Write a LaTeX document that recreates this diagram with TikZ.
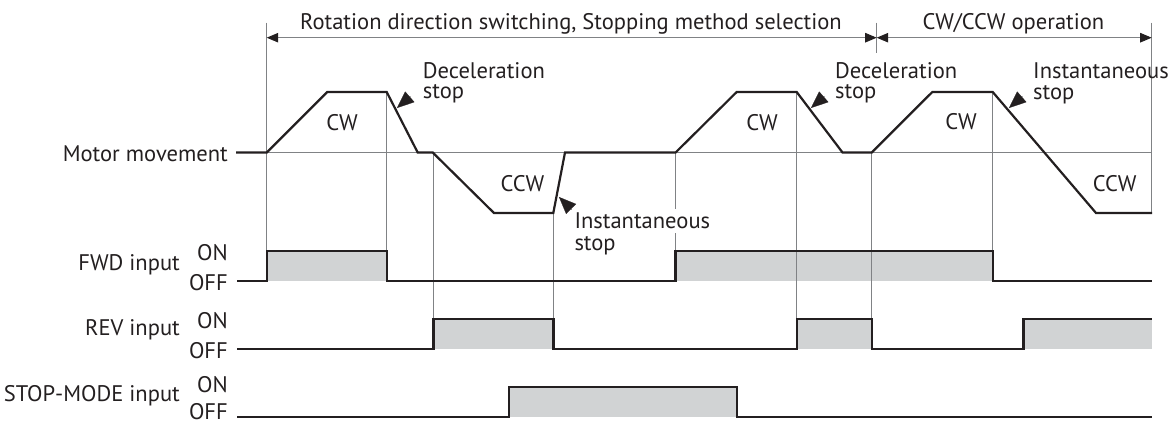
\documentclass[tikz,border=0pt]{standalone}
\usepackage{fontspec}
\setmainfont{PT Sans}
\usetikzlibrary{arrows.meta,calc}
\definecolor{ink}{HTML}{231F20}
\definecolor{guide}{HTML}{808285}
\definecolor{fillg}{HTML}{D1D3D4}
\newlength\mmw
\begin{document}
\settowidth\mmw{\fontsize{20pt}{24pt}\selectfont Motor movement}%
\pgfmathsetmacro\fsz{20*165/\mmw}%
\begin{tikzpicture}[x=1pt,y=-1pt]
\tikzset{
  lbl/.style={font=\fontsize{\fsz pt}{21pt}\selectfont, inner sep=0pt, text=ink},
  sig/.style={draw=ink, line width=2.4pt, line join=miter, line cap=butt},
  motor/.style={draw=ink, line width=2.2pt, line join=miter},
  guideline/.style={draw=guide, line width=0.9pt},
  span/.style={draw=guide, line width=0.9pt, {Triangle[length=11.5pt,width=9.5pt,color=ink]}-{Triangle[length=11.5pt,width=9.5pt,color=ink]}},
  pointer/.style={draw=ink, line width=0.2pt, -{Triangle[length=17pt,width=14pt]}},
  onfill/.style={fill=fillg, draw=none}
}
\useasboundingbox (0,0) rectangle (1168,423);

% ---- gray fills of ON states
\path[onfill] (266.7,251) rectangle (386.7,281);
\path[onfill] (675.6,251) rectangle (992.7,281);
\path[onfill] (433.3,319) rectangle (553.5,349);
\path[onfill] (796.7,319) rectangle (871.7,349);
\path[onfill] (1023.6,319) rectangle (1152,349);
\path[onfill] (509,387) rectangle (736.7,417);

% ---- guide lines
\draw[guideline] (266.7,22.7) -- (266.7,251);
\draw[guideline] (386.7,92) -- (386.7,251);
\draw[guideline] (433.3,152.5) -- (433.3,319);
\draw[guideline] (553.4,213) -- (553.4,319);
\draw[guideline] (675.6,152.5) -- (675.6,251);
\draw[guideline] (796.7,92) -- (796.7,319);
\draw[guideline] (871.7,152.5) -- (871.7,319);
\draw[guideline] (876.7,22.7) -- (876.7,53);
\draw[guideline] (992.7,92) -- (992.7,251);
\draw[guideline] (1151.7,22.7) -- (1151.7,213);
\draw[guideline] (266.7,152.5) -- (1151.7,152.5);

% ---- span arrows at the top
\coordinate (s0) at (266.7,37.7);
\coordinate (s1) at (876.7,37.7);
\coordinate (s2) at (1151.7,37.7);
\draw[span] (s0) -- (s1);
\draw[span] (s1) -- (s2);
\node[lbl, anchor=base] (t1) at (571,29) {Rotation direction switching, Stopping method selection};
\node[lbl, anchor=base] (t2) at (1013.4,29.5) {CW/CCW operation};

% ---- motor movement profile
\draw[motor] (236,152.5) -- (266.7,152.5) -- (327.3,92) -- (386.7,92) -- (417.7,152.5)
  -- (432.7,152.5) -- (494,213) -- (553.3,213) -- (565,152.5) -- (675.6,152.5)
  -- (736.7,92) -- (796.7,92) -- (842.5,152.5) -- (871.7,152.5) -- (932.3,92)
  -- (992.7,92) -- (1096,213) -- (1152,213);

\node[lbl] (cw1) at (342,122.5) {CW};
\node[lbl] (ccw1) at (522.5,184) {CCW};
\node[lbl] (cw2) at (762,123) {CW};
\node[lbl] (cw3) at (961,121.7) {CW};
\node[lbl] (ccw2) at (1114.7,184) {CCW};

% ---- annotations
\node[lbl, anchor=base west] (d1a) at (422.7,78) {Deceleration};
\node[lbl, anchor=base west] (d1b) at (422.7,98.5) {stop};
\node[lbl, anchor=base west] (d2a) at (835,78) {Deceleration};
\node[lbl, anchor=base west] (d2b) at (835,98.5) {stop};
\node[lbl, anchor=base west] (i1a) at (1033,78.3) {Instantaneous};
\node[lbl, anchor=base west] (i1b) at (1033,99) {stop};
\node[lbl, anchor=base west, fill=white, inner ysep=4pt] (i2a) at (574.3,228.3) {Instantaneous};
\node[lbl, anchor=base west] (i2b) at (574.3,250) {stop};

\coordinate (p1) at (397,108);
\coordinate (p2) at (811,108);
\coordinate (p3) at (1009,108);
\coordinate (p4) at (559,197);
\draw[pointer] ($(p1)+(13.5,-11.8)$) -- (p1);
\draw[pointer] ($(p2)+(13.5,-11.8)$) -- (p2);
\draw[pointer] ($(p3)+(13.5,-11.8)$) -- (p3);
\draw[pointer] ($(p4)+(12.9,12.8)$) -- (p4);

% ---- left labels
\node[lbl, anchor=base east] (mm) at (228,161) {Motor movement};
\node[lbl, anchor=base east] (fwd) at (180,270) {FWD input};
\node[lbl, anchor=base east] (fwdon) at (228,260) {ON};
\node[lbl, anchor=base east] (fwdoff) at (228,290) {OFF};
\node[lbl, anchor=base east] (rev) at (180,335) {REV input};
\node[lbl, anchor=base east] (revon) at (228,328) {ON};
\node[lbl, anchor=base east] (revoff) at (228,358) {OFF};
\node[lbl, anchor=base east] (stp) at (180,401) {STOP-MODE input};
\node[lbl, anchor=base east] (stpon) at (228,392) {ON};
\node[lbl, anchor=base east] (stpoff) at (228,419.5) {OFF};

% ---- digital signals
\draw[sig] (237,281) -- (266.7,281) -- (266.7,251) -- (386.7,251) -- (386.7,281)
  -- (675.6,281) -- (675.6,251) -- (992.7,251) -- (992.7,281) -- (1152,281);
\draw[sig] (237,349) -- (433.3,349) -- (433.3,319) -- (553.5,319) -- (553.5,349)
  -- (796.7,349) -- (796.7,319) -- (871.7,319) -- (871.7,349) -- (1023.6,349)
  -- (1023.6,319) -- (1152,319);
\draw[sig] (237,417) -- (509,417) -- (509,387) -- (736.7,387) -- (736.7,417) -- (1152,417);
\end{tikzpicture}
\end{document}
